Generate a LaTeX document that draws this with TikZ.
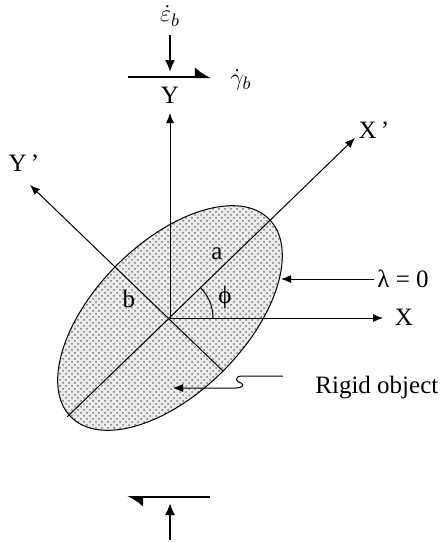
\documentclass[tikz,border=0pt]{standalone}
\usepackage{fontspec}
\setmainfont{Liberation Serif}
\usetikzlibrary{arrows.meta,patterns}
\begin{document}
\begin{tikzpicture}[x=0.5pt,y=-0.5pt,
  lbl/.style={inner sep=0pt,font=\fontsize{12.5}{14}\selectfont},
  axis/.style={line width=0.5pt,-{Latex[length=5pt,width=4pt]}},
  thick arrow/.style={line width=1pt,-{Latex[length=6pt,width=5pt]}},
  obj/.style={draw,line width=0.5pt,pattern=crosshatch dots,pattern color=black!55}]
\useasboundingbox (0,0) rectangle (442,542);
% centre
\coordinate (O) at (170,318);
% rigid object
\fill[gray!15,rotate around={45:(O)}] (O) ellipse [x radius=140,y radius=75];
\path[obj,rotate around={45:(O)}] (O) ellipse [x radius=140,y radius=75];
% axes
\coordinate (Xend) at (383,318);
\coordinate (Yend) at (170,113);
\coordinate (Xpend) at (355,138);
\coordinate (Xpstart) at (67,417);
\coordinate (Ypend) at (30,185);
\coordinate (Ypstart) at (223,371);
\coordinate (arcstart) at (213,318);
\draw[axis] (O) -- (Xend);
\draw[axis] (O) -- (Yend);
\draw[axis] (Xpstart) -- (Xpend);
\draw[axis] (Ypstart) -- (Ypend);
\draw[line width=0.5pt] (arcstart) arc[start angle=0,end angle=-45,radius=43];
% labels
\node[lbl] (X) at (404,317) {X};
\node[lbl] (Y) at (170,95) {Y};
\node[lbl] (Xp) at (374,130) {X\,'};
\node[lbl] (Yp) at (24,163) {Y\,'};
\node[lbl] (a) at (217,254) {a};
\node[lbl] (b) at (129,299) {b};
\node[lbl] (phi) at (225,297) {ϕ};
% lambda = 0
\node[lbl,anchor=west] (lam) at (377,279) {λ = 0};
\coordinate (lamtip) at (281,279);
\draw[axis] (lam.west) ++(-3,0) -- (lamtip);
% rigid object label
\node[lbl,anchor=west] (rig) at (315,388) {Rigid object};
\coordinate (rigtip) at (173,388);
\draw[line width=0.5pt,-{Latex[length=5pt,width=4pt]}] (283,376) -- (241,376)
  .. controls (234,377) and (236,382) .. (241,383)
  .. controls (245,385) and (242,388) .. (236,388) -- (rigtip);
% top loads
\node[lbl,inner sep=1pt] (epsb) at (170,16) {$\dot{\varepsilon}_b$};
\node[lbl,inner sep=1pt] (gamb) at (241,80) {$\dot{\gamma}_b$};
\coordinate (dtop) at (170,35);
\coordinate (dbot) at (170,72);
\draw[thick arrow] (dtop) -- (dbot);
\coordinate (hl) at (128,77);
\coordinate (hr) at (211,77);
\draw[line width=1pt,-{Latex[length=7pt,width=10pt,harpoon]}] (hl) -- (hr);
% bottom loads
\coordinate (bl) at (127,497);
\coordinate (br) at (210,497);
\draw[line width=1pt,{Latex[length=7pt,width=10pt,harpoon]}-] (bl) -- (br);
\coordinate (ubot) at (170,540);
\coordinate (utop) at (170,503);
\draw[thick arrow] (ubot) -- (utop);
\end{tikzpicture}
\end{document}
